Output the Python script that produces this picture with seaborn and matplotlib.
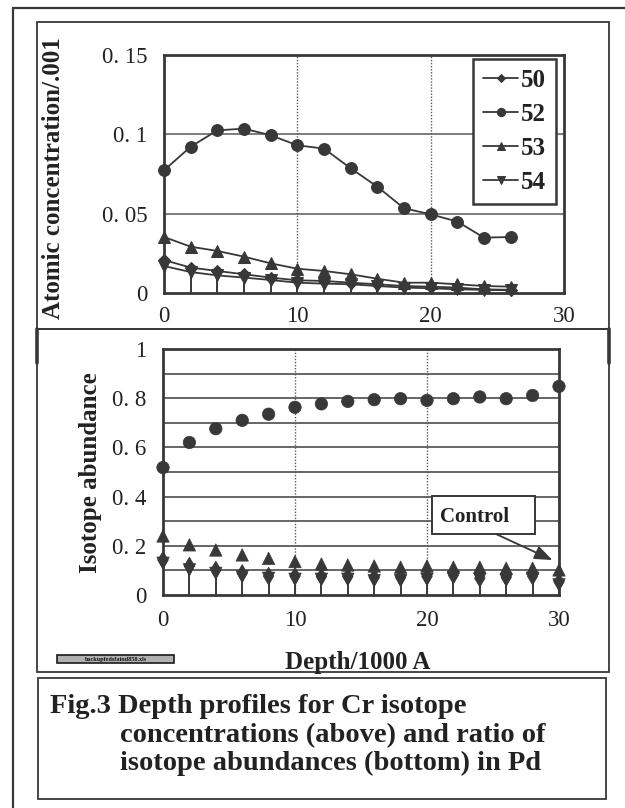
import matplotlib
matplotlib.use("Agg")
import matplotlib.pyplot as plt
import seaborn as sns
import pandas as pd
import numpy as np
from matplotlib.patches import Rectangle

# ---------------- data ----------------
isotopes = ["50", "52", "53", "54"]

depth_top = [0, 2, 4, 6, 8, 10, 12, 14, 16, 18, 20, 22, 24, 26]
conc_50 = [0.0208, 0.0160, 0.0139, 0.0118, 0.0097, 0.0080, 0.0076, 0.0065, 0.0055, 0.0044, 0.0040, 0.0034, 0.0023, 0.0020]
conc_52 = [0.0773, 0.0922, 0.1025, 0.1036, 0.0994, 0.0931, 0.0910, 0.0786, 0.0670, 0.0534, 0.0496, 0.0450, 0.0349, 0.0353]
conc_53 = [0.0353, 0.0292, 0.0265, 0.0229, 0.0187, 0.0153, 0.0139, 0.0118, 0.0090, 0.0065, 0.0065, 0.0055, 0.0044, 0.0040]
conc_54 = [0.0170, 0.0132, 0.0111, 0.0097, 0.0082, 0.0065, 0.0059, 0.0055, 0.0044, 0.0034, 0.0030, 0.0023, 0.0020, 0.0017]

depth_bot = [0, 2, 4, 6, 8, 10, 12, 14, 16, 18, 20, 22, 24, 26, 28, 30]
abund_50 = [0.142, 0.118, 0.102, 0.088, 0.077, 0.077, 0.075, 0.075, 0.072, 0.072, 0.075, 0.081, 0.068, 0.072, 0.077, 0.054]
abund_52 = [0.518, 0.620, 0.676, 0.710, 0.735, 0.763, 0.777, 0.787, 0.794, 0.798, 0.791, 0.798, 0.805, 0.798, 0.811, 0.848]
abund_53 = [0.240, 0.204, 0.183, 0.163, 0.149, 0.136, 0.126, 0.122, 0.118, 0.113, 0.118, 0.113, 0.113, 0.109, 0.109, 0.102]
abund_54 = [0.129, 0.102, 0.088, 0.075, 0.068, 0.064, 0.064, 0.064, 0.058, 0.058, 0.064, 0.072, 0.064, 0.061, 0.068, 0.041]

top_yticks = [0, 0.05, 0.1, 0.15]
top_yticklabels = ["0", "0. 05", "0. 1", "0. 15"]
bot_yticks = [0, 0.2, 0.4, 0.6, 0.8, 1.0]
bot_yticklabels = ["0", "0. 2", "0. 4", "0. 6", "0. 8", "1"]
xticks = [0, 10, 20, 30]

caption_lines = ["Fig.3 Depth profiles for Cr isotope",
                 "concentrations (above) and ratio of",
                 "isotope abundances (bottom) in Pd"]

# ---------------- style ----------------
sns.set_theme(style="white")
plt.rcParams["font.family"] = ["Liberation Serif", "DejaVu Serif"]

W, H = 625, 808
fig = plt.figure(figsize=(W / 100, H / 100), dpi=100)
fig.patch.set_facecolor("white")

INK = "#383838"
TXT = "#222222"
GRID = "#5a5a5a"
markers = {"50": "D", "52": "o", "53": "^", "54": "v"}
palette = {k: INK for k in isotopes}


def fr(x, y):
    return x / W, 1 - y / H


def axes_px(left, top, right, bottom):
    return [left / W, 1 - bottom / H, (right - left) / W, (bottom - top) / H]


# overlay for frames and caption (pixel coordinates)
ov = fig.add_axes([0, 0, 1, 1], zorder=0)
ov.set_xlim(0, W)
ov.set_ylim(H, 0)
ov.axis("off")

# outer border (left and top only visible)
ov.plot([13, 13], [8, H + 5], color=INK, lw=1.6, clip_on=False)
ov.plot([13, W + 5], [8, 8], color=INK, lw=1.6, clip_on=False)
# upper chart box
ov.add_patch(Rectangle((37, 22), 609 - 37, 329 - 22, fill=False, ec=INK, lw=1.3))
# lower chart box
ov.add_patch(Rectangle((37, 329), 609 - 37, 672 - 329, fill=False, ec=INK, lw=1.3))
ov.plot([37, 37], [329, 363], color=INK, lw=2.6)
ov.plot([609, 609], [329, 363], color=INK, lw=2.6)
# caption box
ov.add_patch(Rectangle((38, 678), 606 - 38, 799 - 678, fill=False, ec=INK, lw=1.3))

# small file-name tag
ov.add_patch(Rectangle((57, 655), 174 - 57, 8, fill=True, fc="#b0b0b0", ec="#1a1a1a", lw=1.2))
ov.text(115.5, 659.3, "backupfedsfaind858.xls", fontsize=4.4, color="#111111",
        ha="center", va="center", fontweight="bold")

# caption
for i, (x0, yb) in enumerate([(50, 713), (120, 742), (120, 770)]):
    ov.text(x0, yb, caption_lines[i], fontsize=20.5, fontweight="bold", color=TXT,
            ha="left", va="baseline")

# ---------------- upper chart ----------------
df_top = pd.DataFrame({
    "depth": depth_top * 4,
    "conc": conc_50 + conc_52 + conc_53 + conc_54,
    "iso": sum([[k] * len(depth_top) for k in isotopes], []),
})

ax1 = fig.add_axes(axes_px(164, 55, 564, 293), zorder=2)
ax1.set_facecolor("white")
for yv in [0.05, 0.1]:
    ax1.axhline(yv, color=GRID, lw=1.1, zorder=1)
for xv in [10, 20]:
    ax1.axvline(xv, color=GRID, lw=1.0, ls=(0, (1, 1.2)), zorder=1)

ax1.vlines(depth_top[1:], 0, conc_54[1:], color=INK, lw=1.4, zorder=2)

sns.lineplot(data=df_top, x="depth", y="conc", hue="iso", style="iso",
             markers=markers, dashes=False, palette=palette, ax=ax1,
             markersize=8.5, markeredgecolor=INK, linewidth=1.3,
             hue_order=isotopes, style_order=isotopes, legend=True,
             clip_on=False, zorder=3)
for ln in ax1.lines:
    if ln.get_marker() == "D":
        ln.set_markersize(6)
    if ln.get_marker() in ("^", "v"):
        ln.set_markersize(8)

ax1.set_xlim(0, 30)
ax1.set_ylim(0, 0.15)
ax1.set_xticks(xticks)
ax1.set_xticklabels([str(v) for v in xticks])
ax1.set_yticks(top_yticks)
ax1.set_yticklabels(top_yticklabels)
ax1.tick_params(axis="both", length=0, labelsize=16.5, colors=TXT)
ax1.tick_params(axis="y", pad=12)
ax1.tick_params(axis="x", pad=9)
for s in ax1.spines.values():
    s.set_color(INK)
    s.set_linewidth(2.0)
ax1.set_xlabel("")
ax1.set_ylabel("Atomic concentration/.001", fontsize=18, fontweight="bold",
               color=TXT, va="center")
ax1.yaxis.set_label_coords(*fr(54, 178), transform=fig.transFigure)

handles, labels = ax1.get_legend_handles_labels()
leg = ax1.legend(handles, labels, loc="upper left",
                 bbox_to_anchor=fr(473, 59), bbox_transform=fig.transFigure,
                 frameon=True, fancybox=False, edgecolor=INK, framealpha=1,
                 prop={"weight": "bold", "size": 18, "family": "Liberation Serif"},
                 handlelength=1.4, handletextpad=0.12, borderpad=0.4,
                 labelspacing=0.44, borderaxespad=0, markerscale=0.7)
leg.get_frame().set_linewidth(1.8)
for t in leg.get_texts():
    t.set_color(TXT)

# ---------------- lower chart ----------------
df_bot = pd.DataFrame({
    "depth": depth_bot * 4,
    "abund": abund_50 + abund_52 + abund_53 + abund_54,
    "iso": sum([[k] * len(depth_bot) for k in isotopes], []),
})

ax2 = fig.add_axes(axes_px(163, 349, 559, 595), zorder=2)
ax2.set_facecolor("white")
for yv in np.arange(0.1, 1.0, 0.1):
    ax2.axhline(yv, color=GRID, lw=1.3, zorder=1)
for xv in [10, 20]:
    ax2.axvline(xv, color=GRID, lw=1.0, ls=(0, (1, 1.2)), zorder=1)

ax2.vlines(depth_bot[1:], 0, abund_54[1:], color=INK, lw=1.4, zorder=2)

bot_markers = {"50": "d", "52": "o", "53": "^", "54": "v"}
sns.scatterplot(data=df_bot, x="depth", y="abund", hue="iso", style="iso",
                markers=bot_markers, palette=palette, ax=ax2, s=80,
                edgecolor=INK, linewidth=0.5, hue_order=isotopes,
                style_order=isotopes, legend=False, clip_on=False, zorder=3)

ax2.set_xlim(0, 30)
ax2.set_ylim(0, 1.0)
ax2.set_xticks(xticks)
ax2.set_xticklabels([str(v) for v in xticks])
ax2.set_yticks(bot_yticks)
ax2.set_yticklabels(bot_yticklabels)
ax2.tick_params(axis="both", length=0, labelsize=16.5, colors=TXT)
ax2.tick_params(axis="y", pad=12)
ax2.tick_params(axis="x", pad=11)
for s in ax2.spines.values():
    s.set_color(INK)
    s.set_linewidth(2.0)
ax2.set_ylabel("Isotope abundance", fontsize=18, fontweight="bold",
               color=TXT, va="center")
ax2.yaxis.set_label_coords(*fr(91, 473), transform=fig.transFigure)
ax2.set_xlabel("Depth/1000 A", fontsize=18, fontweight="bold",
               color=TXT, va="center")
ax2.xaxis.set_label_coords(*fr(358, 662), transform=fig.transFigure)

# Control annotation: box, label and arrow
ax2.add_patch(Rectangle((20.4, 0.248), 28.2 - 20.4, 0.402 - 0.248, fill=True,
                        fc="white", ec=INK, lw=1.4, zorder=4))
ax2.text(23.6, 0.318, "Control", fontsize=15, fontweight="bold", color=TXT,
         ha="center", va="center", zorder=5)
ax2.annotate("", xy=(29.5, 0.142), xycoords="data",
             xytext=(25.3, 0.246), textcoords="data",
             arrowprops=dict(arrowstyle="-|>,head_length=0.9,head_width=0.35",
                             color=INK, lw=1.3, shrinkA=0, shrinkB=0),
             zorder=4)

fig.savefig("out.png", dpi=100, facecolor="white")
